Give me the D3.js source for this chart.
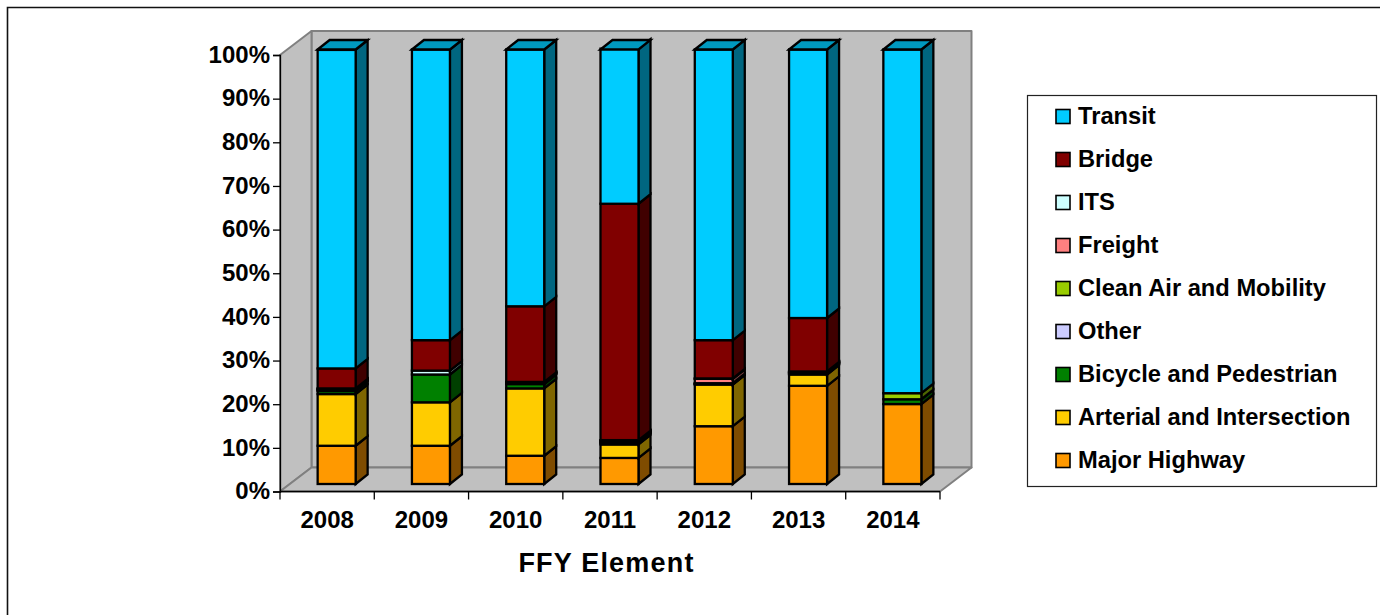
<!DOCTYPE html>
<html><head><meta charset="utf-8">
<script src="https://d3js.org/d3.v7.min.js"></script>
<style>html,body{margin:0;padding:0;background:#fff}svg{display:block}text{font-family:"Liberation Sans",Arial,sans-serif;font-weight:bold;fill:#000}</style>
</head><body><svg id="c" width="1380" height="615"></svg>
<script>
const years = ["2008","2009","2010","2011","2012","2013","2014"];
const seriesNames = ["Major Highway","Arterial and Intersection","Bicycle and Pedestrian","Other","Clean Air and Mobility","Freight","ITS","Bridge","Transit"];
const majorHighway = [8.8,8.8,6.5,6.0,13.3,22.6,18.4];
const arterial = [11.9,10.0,15.5,3.1,9.6,2.6,0];
const bicycle = [0.7,6.4,1.0,0.3,0.1,0.2,1.1];
const other = [0.2,0,0.1,0.2,0.1,0.1,0];
const cleanAir = [0.2,0,0.2,0.2,0.1,0.2,1.4];
const freight = [0.1,0,0.1,0.2,1.0,0.1,0];
const its = [0.1,0.9,0.1,0.1,0.1,0.1,0];
const bridge = [4.6,7.0,17.4,54.4,8.8,12.3,0];
const transit = [73.3,66.9,59.1,35.7,66.9,61.8,79.1];
const fills = ["#FF9900","#FFCC00","#008000","#CCCCFF","#99CC00","#FF8080","#CCFFFF","#800000","#00CCFF"];
const sides = ["#7F4C00","#7F6600","#004000","#66667F","#4C6600","#7F4040","#667F7F","#400000","#006680"];
const tickLabels = [0,10,20,30,40,50,60,70,80,90,100];

const svg = d3.select("#c");
const values = [majorHighway,arterial,bicycle,other,cleanAir,freight,its,bridge,transit];
const table = years.map((y,i)=>{const r={year:y};seriesNames.forEach((s,k)=>r[s]=values[k][i]);return r;});
const stacked = d3.stack().keys(seriesNames)(table);

// frame
svg.append("path").attr("d","M7.5,615V7.5H1380").attr("fill","none").attr("stroke","#111").attr("stroke-width",1.6);

const x = d3.scaleBand().domain(years).range([280,940]).paddingInner(0).paddingOuter(0);
const yAxis = d3.scaleLinear().domain([0,100]).range([491.5,55]);
const yBar = d3.scaleLinear().domain([0,100]).range([484,49.5]);
const wallDX=31.5, wallDY=-24, barDX=12, barDY=-9.5, barW=38;
const x0=280,x1=x.range()[1],y0=yAxis(0),y1=yAxis(100);
const wall=svg.append("g");
const poly=(pts,f,s,w)=>wall.append("polygon").attr("points",pts.map(p=>p.join(",")).join(" ")).attr("fill",f).attr("stroke",s).attr("stroke-width",w).attr("stroke-linejoin","round");
poly([[x0+wallDX,y1+wallDY],[x1+wallDX,y1+wallDY],[x1+wallDX,y0+wallDY],[x0+wallDX,y0+wallDY]],"#C0C0C0","#808080",2);
poly([[x0,y1],[x0+wallDX,y1+wallDY],[x0+wallDX,y0+wallDY],[x0,y0]],"#C0C0C0","#808080",2);
poly([[x0,y0],[x0+wallDX,y0+wallDY],[x1+wallDX,y0+wallDY],[x1,y0]],"#C0C0C0","#808080",2);

// axes
const fontAxis=24;
const ax=svg.append("g").attr("transform",`translate(280,0)`).call(d3.axisLeft(yAxis).tickValues(tickLabels).tickSize(7).tickPadding(3).tickFormat(d=>d+"%"));
ax.select(".domain").attr("stroke","#000").attr("stroke-width",1.3);
ax.selectAll("line").attr("stroke","#000").attr("stroke-width",1.3);
ax.selectAll("text").attr("font-size",fontAxis).attr("fill","#000").attr("font-family",'"Liberation Sans"').attr("font-weight","bold").attr("dy","0.3em");
const bx=svg.append("g").attr("transform",`translate(0,${y0})`).call(d3.axisBottom(x).tickSize(0).tickPadding(19));
bx.select(".domain").attr("d",`M280,0H${x1}`).attr("stroke","#000").attr("stroke-width",1.3);
bx.selectAll("text").attr("font-size",fontAxis).attr("fill","#000").attr("font-family",'"Liberation Sans"').attr("font-weight","bold");
bx.selectAll(".b").data(d3.range(years.length+1)).enter().append("line").attr("x1",i=>280+i*x.step()).attr("x2",i=>280+i*x.step()).attr("y1",0).attr("y2",8).attr("stroke","#000").attr("stroke-width",1.3);

// bars
const bars=svg.append("g").attr("stroke","#000").attr("stroke-width",2.3).attr("stroke-linejoin","miter");
years.forEach((yr,i)=>{
  const L=x(yr)+x.step()/2-9.5, R=L+barW;
  stacked.forEach((s,k)=>{
    const [a,b]=s[i];
    if(b-a<=0) return;
    const ya=yBar(a), yb=yBar(b);
    bars.append("polygon").attr("points",[[R,ya],[R+barDX,ya+barDY],[R+barDX,yb+barDY],[R,yb]].map(p=>p.join(",")).join(" ")).attr("fill",sides[k]);
    bars.append("rect").attr("x",L).attr("y",yb).attr("width",barW).attr("height",ya-yb).attr("fill",fills[k]);
  });
  const t=yBar(100);
  bars.append("polygon").attr("points",[[L,t],[L+barDX,t+barDY],[R+barDX,t+barDY],[R,t]].map(p=>p.join(",")).join(" ")).attr("fill","#0099BF");
});

// x title
svg.append("text").attr("x",606.5).attr("y",572).attr("text-anchor","middle").attr("font-size",27).style("letter-spacing","1.2px").text("FFY Element");

// legend
svg.append("rect").attr("x",1027.5).attr("y",95.5).attr("width",349).attr("height",391).attr("fill","#fff").attr("stroke","#222").attr("stroke-width",1.2);
const legY=d3.scalePoint().domain(seriesNames.slice().reverse()).range([116,460]);
const leg=svg.append("g");
seriesNames.forEach((s,k)=>{
  const yy=legY(s);
  leg.append("rect").attr("x",1056).attr("y",yy-6.5).attr("width",14).attr("height",14).attr("fill",fills[k]).attr("stroke","#000").attr("stroke-width",1.6);
  leg.append("text").attr("x",1078).attr("y",yy+8).attr("font-size",23.7).text(s);
});
</script></body></html>
